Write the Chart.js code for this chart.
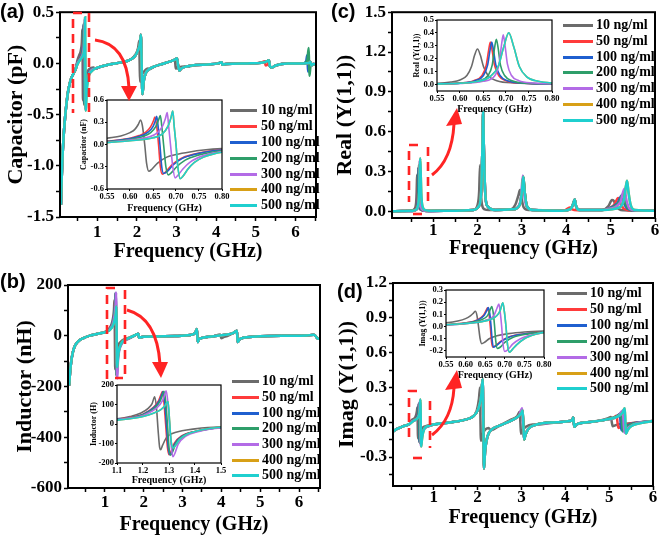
<!DOCTYPE html>
<html><head><meta charset="utf-8">
<script src="https://cdn.jsdelivr.net/npm/chart.js@4.4.1/dist/chart.umd.min.js"></script>
<style>
html,body{margin:0;padding:0;background:#fff;}
body{width:661px;height:536px;position:relative;overflow:hidden;font-family:'Liberation Serif','Times New Roman',serif;}
canvas{position:absolute;}
.plab{position:absolute;font:bold 20px 'Liberation Sans',Arial,sans-serif;line-height:20px;color:#000;z-index:5;}
.lgl{position:absolute;height:3px;z-index:5;}
.lgt{position:absolute;font:bold 14px 'Liberation Serif',serif;line-height:16px;color:#000;white-space:nowrap;z-index:5;}
svg{position:absolute;left:0;top:0;z-index:6;}
</style></head><body>
<div class="plab" style="left:0px;top:1px">(a)</div>
<div class="plab" style="left:0px;top:271px">(b)</div>
<div class="plab" style="left:331px;top:1px">(c)</div>
<div class="plab" style="left:337px;top:281px">(d)</div>
<svg width="661" height="536" viewBox="0 0 661 536">
 <g fill="none" stroke="#ff2424" stroke-width="2.6" stroke-dasharray="9,6">
  <path d="M82,13 L73,13 L73,113"/><path d="M89,13 L89,115"/>
  <path d="M115,288 L107,288 L107,380"/><path d="M125,290 L125,378 L115,378"/>
  <path d="M418,145 L409,145 L409,202"/><path d="M428,147 L428,202"/><path d="M413,214 L423,214"/>
  <path d="M417,391 L409,391 L409,440"/><path d="M430,401 L430,448"/><path d="M413,458 L424,458"/>
 </g>
 <g fill="none" stroke="#ff2424" stroke-width="3">
  <path d="M95,40 Q127,44 129,88"/>
  <path d="M127,310 Q157,318 160,364"/>
  <path d="M432,175 Q452,160 454,124"/>
  <path d="M432,435 Q452,420 454,388"/>
 </g>
 <g fill="#ff2424">
  <polygon points="121,86 137,86 129,101"/>
  <polygon points="152,362 168,362 161,378"/>
  <polygon points="446,126 462,124 457,108"/>
  <polygon points="445,390 462,388 457,370"/>
 </g>
</svg>
<script>
// ---------- legend / series info ----------
const concLabels = ['10 ng/ml','50 ng/ml','100 ng/ml','200 ng/ml','300 ng/ml','400 ng/ml','500 ng/ml'];
const seriesColors = ['#6b6b6b','#ff3b3b','#1f5fcf','#2e9e6a','#b36be6','#d8a017','#1fcfcf'];

// ---------- tick values ----------
const mainXMajor = [1,2,3,4,5,6];
const mainXMinorAB = [0.5,1.5,2.5,3.5,4.5,5.5,6.5];
const mainXMinorCD = [0.5,1.5,2.5,3.5,4.5,5.5];
const capYMajor = [-1.5,-1,-0.5,0,0.5];
const capYMinor = [-1.25,-0.75,-0.25,0.25];
const indYMajor = [-600,-400,-200,0,200];
const indYMinor = [-500,-300,-100,100];
const realYMajor = [0,0.3,0.6,0.9,1.2,1.5];
const realYMinor = [0.15,0.45,0.75,1.05,1.35];
const imagYMajor = [-0.3,0,0.3,0.6,0.9,1.2];
const imagYMinor = [-0.45,-0.15,0.15,0.45,0.75,1.05];
const insetFreqTicks = [0.55,0.60,0.65,0.70,0.75,0.80];
const insetIndFreqTicks = [1.1,1.2,1.3,1.4,1.5];
const capInsetY = [-0.6,-0.3,0,0.3,0.6];
const realInsetY = [0,0.1,0.2,0.3,0.4,0.5];
const indInsetY = [-200,-100,0,100,200];
const imagInsetY = [-0.2,-0.1,0,0.1,0.2,0.3];

// ---------- (a) Capacitor: 500 ng/ml (top curve) ----------
const cap500 = [[0.085,-1.38],[0.1,-1.15],[0.12,-0.94],[0.15,-0.72],[0.19,-0.52],[0.23,-0.37],[0.27,-0.26],[0.33,-0.16],[0.4,-0.1],[0.46,-0.05],[0.5,-0.01],
 [0.55,0.025],[0.60,0.05],[0.65,0.09],[0.67,0.14],[0.683,0.25],[0.689,0.36],[0.693,0.45],[0.696,0.25],[0.70,0.0],[0.704,-0.3],[0.709,-0.46],[0.716,-0.42],[0.726,-0.33],[0.74,-0.24],[0.76,-0.17],[0.78,-0.13],[0.80,-0.105],[0.85,-0.08],[0.95,-0.05],
 [1.1,-0.03],[1.3,-0.01],[1.6,0.01],[1.8,0.03],[1.95,0.07],[2.03,0.13],[2.08,0.2],[2.1,0.28],[2.12,0.0],[2.14,-0.3],[2.17,-0.18],[2.22,-0.1],[2.3,-0.06],[2.45,-0.03],[2.6,-0.01],[2.85,0.02],[2.97,0.04],[3.01,0.05],[3.04,-0.02],[3.07,-0.07],[3.12,-0.05],[3.25,-0.03],[3.5,-0.015],[3.8,-0.01],
 [4.05,0.0],[4.14,0.012],[4.16,-0.012],[4.25,-0.005],[4.8,0.0],[5.2,0.01],[5.3,0.025],[5.33,0.03],[5.36,-0.03],[5.4,-0.04],[5.5,-0.02],[5.8,0.0],[6.2,0.0],[6.35,0.005],[6.38,0.015],[6.4,-0.02],[6.45,-0.005],[6.52,-0.01]];
const cap10R1 = [[0.5,0.03],[0.55,0.085],[0.58,0.115],[0.60,0.16],[0.61,0.2],[0.618,0.27],[0.623,0.33],[0.627,0.25],[0.632,0.0],[0.636,-0.25],[0.641,-0.36],[0.648,-0.33],[0.66,-0.25],[0.68,-0.17],[0.70,-0.135],[0.73,-0.1],[0.76,-0.075],[0.80,-0.055],[0.9,-0.04]];
const cap10R2 = [[1.85,0.04],[1.97,0.09],[2.03,0.15],[2.06,0.22],[2.07,0.0],[2.08,-0.18],[2.11,-0.12],[2.18,-0.08],[2.28,-0.05]];
const cap10R3 = [[2.8,0.015],[2.92,0.03],[2.96,0.035],[2.98,-0.05],[3.02,-0.04],[3.1,-0.035],[3.2,-0.03]];
const cap50R1 = [[0.5,0.01],[0.55,0.045],[0.60,0.085],[0.62,0.12],[0.635,0.17],[0.645,0.24],[0.651,0.32],[0.654,0.37],[0.658,0.25],[0.662,0.0],[0.666,-0.3],[0.670,-0.40],[0.676,-0.38],[0.69,-0.28],[0.71,-0.19],[0.74,-0.13],[0.77,-0.09],[0.80,-0.07],[0.9,-0.045]];
const cap50R5 = [[5.15,0.01],[5.22,0.02],[5.25,-0.02],[5.3,-0.01]];
const cap100R1 = [[0.5,0.01],[0.55,0.04],[0.60,0.08],[0.625,0.12],[0.64,0.17],[0.65,0.24],[0.655,0.32],[0.658,0.38],[0.661,0.25],[0.665,0.0],[0.669,-0.3],[0.673,-0.39],[0.68,-0.37],[0.693,-0.28],[0.713,-0.19],[0.743,-0.13],[0.775,-0.09],[0.80,-0.075],[0.9,-0.047]];
const cap100R6 = [[6.2,0.0],[6.27,0.02],[6.3,0.08],[6.31,0.0],[6.32,-0.08],[6.35,-0.02],[6.37,-0.01]];
const cap200R1 = [[0.5,0.005],[0.55,0.035],[0.60,0.07],[0.63,0.11],[0.645,0.16],[0.656,0.24],[0.662,0.33],[0.666,0.39],[0.669,0.25],[0.673,0.0],[0.678,-0.3],[0.683,-0.41],[0.69,-0.38],[0.70,-0.31],[0.72,-0.21],[0.75,-0.14],[0.78,-0.1],[0.80,-0.085],[0.9,-0.05]];
const cap200R6 = [[6.2,0.0],[6.3,0.03],[6.335,0.15],[6.345,0.0],[6.355,-0.12],[6.38,-0.03],[6.39,-0.02]];
const cap300R1 = [[0.5,0.0],[0.55,0.03],[0.60,0.06],[0.64,0.1],[0.66,0.16],[0.671,0.25],[0.677,0.35],[0.681,0.43],[0.684,0.25],[0.688,0.0],[0.693,-0.3],[0.698,-0.45],[0.705,-0.41],[0.715,-0.33],[0.73,-0.24],[0.76,-0.15],[0.80,-0.095],[0.9,-0.055]];

// ---------- (b) Inductor ----------
const ind500 = [[0.08,-196],[0.1,-150],[0.13,-105],[0.17,-68],[0.22,-42],[0.3,-24],[0.45,-9],[0.65,2],[0.85,9],[1.0,14],
 [1.1,20],[1.15,27],[1.2,38],[1.24,55],[1.27,75],[1.285,95],[1.296,115],[1.30,60],[1.305,-40],[1.31,-105],[1.316,-123],[1.325,-110],[1.34,-80],[1.37,-52],[1.4,-38],[1.45,-24],[1.5,-17],[1.6,-10],
 [1.75,0],[1.83,6],[1.86,8],[1.88,-8],[1.92,-6],[2.0,-4],[2.3,-3],[2.8,-1],[3.2,3],[3.33,12],[3.37,27],[3.39,-25],[3.42,-15],[3.55,-7],[3.8,-2],[4.1,4],[4.3,10],[4.4,20],[4.42,-25],[4.47,-14],[4.6,-7],[5.0,-2],[5.6,0],[6.2,1],[6.38,4],[6.43,-2],[6.47,-10],[6.53,-12]];
const ind10R1 = [[1.1,26],[1.15,38],[1.19,55],[1.22,80],[1.235,105],[1.245,140],[1.252,80],[1.258,-30],[1.264,-120],[1.268,-132],[1.275,-110],[1.29,-70],[1.31,-50],[1.35,-35],[1.4,-25],[1.45,-18],[1.5,-14],[1.6,-9]];
const ind10R4 = [[3.85,1],[3.97,5],[4.0,-10],[4.05,-6],[4.15,-1]];
const ind50R1 = [[1.1,24],[1.15,33],[1.2,50],[1.24,85],[1.26,120],[1.272,160],[1.275,166],[1.28,120],[1.287,0],[1.294,-120],[1.300,-157],[1.308,-140],[1.32,-100],[1.35,-60],[1.4,-38],[1.45,-25],[1.5,-18],[1.6,-11]];
const ind100R1 = [[1.1,24],[1.15,32],[1.2,49],[1.243,85],[1.263,120],[1.275,160],[1.278,167],[1.283,120],[1.29,0],[1.297,-120],[1.303,-158],[1.311,-140],[1.323,-100],[1.353,-60],[1.403,-38],[1.453,-25],[1.5,-18],[1.6,-11]];
const ind200R1 = [[1.1,23],[1.15,31],[1.2,47],[1.247,85],[1.267,120],[1.278,160],[1.281,168],[1.287,120],[1.294,0],[1.300,-120],[1.306,-160],[1.314,-142],[1.326,-100],[1.356,-60],[1.406,-38],[1.456,-25],[1.5,-19],[1.6,-12]];
const ind300R1 = [[1.1,22],[1.15,30],[1.2,44],[1.255,85],[1.275,120],[1.286,160],[1.289,170],[1.295,120],[1.302,0],[1.309,-120],[1.315,-168],[1.323,-150],[1.335,-105],[1.365,-62],[1.415,-38],[1.46,-26],[1.5,-20],[1.6,-12]];

// ---------- (c) Real(Y(1,1)) ----------
const real500 = [[0.07,0.0],[0.3,0.002],[0.5,0.004],[0.55,0.005],[0.60,0.01],[0.64,0.025],[0.665,0.06],[0.683,0.14],[0.695,0.29],[0.706,0.40],[0.717,0.29],[0.729,0.14],[0.745,0.06],[0.77,0.025],[0.80,0.012],[0.9,0.005],
 [1.5,0.005],[1.9,0.01],[2.03,0.04],[2.08,0.15],[2.11,0.5],[2.125,0.75],[2.14,0.5],[2.17,0.15],[2.22,0.04],[2.4,0.01],[2.8,0.015],[2.95,0.05],[3.0,0.15],[3.03,0.26],[3.06,0.15],[3.11,0.04],[3.25,0.01],[3.9,0.005],
 [4.1,0.02],[4.16,0.06],[4.19,0.09],[4.22,0.04],[4.3,0.01],[4.8,0.01],[5.2,0.03],[5.3,0.09],[5.35,0.2],[5.37,0.23],[5.4,0.15],[5.45,0.05],[5.55,0.01],[6.0,0.005]];
const real10R1 = [[0.5,0.006],[0.55,0.01],[0.58,0.02],[0.60,0.035],[0.615,0.07],[0.625,0.14],[0.632,0.23],[0.638,0.275],[0.644,0.23],[0.651,0.14],[0.661,0.07],[0.68,0.03],[0.72,0.012],[0.80,0.005],[0.9,0.003]];
const real10R2 = [[1.9,0.01],[2.0,0.05],[2.035,0.15],[2.055,0.35],[2.075,0.15],[2.1,0.05],[2.16,0.015],[2.25,0.01]];
const real10R3 = [[2.75,0.015],[2.85,0.05],[2.92,0.12],[2.955,0.16],[2.99,0.1],[3.04,0.03],[3.15,0.01]];
const real10R5 = [[4.8,0.01],[4.95,0.04],[5.03,0.085],[5.07,0.08],[5.12,0.04],[5.2,0.015],[5.3,0.008],[5.5,0.005],[6.0,0.005]];
const real50R1 = [[0.5,0.003],[0.55,0.005],[0.60,0.012],[0.63,0.03],[0.648,0.07],[0.657,0.15],[0.662,0.26],[0.666,0.33],[0.670,0.26],[0.675,0.15],[0.684,0.07],[0.70,0.03],[0.74,0.01],[0.80,0.005],[0.9,0.003]];
const real50R4 = [[3.95,0.005],[4.08,0.03],[4.13,0.015],[4.25,0.008]];
const real50R5 = [[4.9,0.015],[5.08,0.05],[5.17,0.1],[5.22,0.06],[5.3,0.02],[5.5,0.006],[6.0,0.005]];
const real100R1 = [[0.5,0.003],[0.55,0.005],[0.60,0.011],[0.633,0.03],[0.651,0.07],[0.66,0.15],[0.665,0.26],[0.669,0.33],[0.673,0.26],[0.678,0.15],[0.687,0.07],[0.703,0.03],[0.74,0.011],[0.80,0.005],[0.9,0.003]];
const real100R5 = [[4.9,0.015],[5.15,0.06],[5.25,0.12],[5.3,0.06],[5.38,0.02],[5.55,0.006],[6.0,0.005]];
const real200R1 = [[0.5,0.003],[0.55,0.005],[0.60,0.01],[0.64,0.028],[0.661,0.07],[0.67,0.15],[0.675,0.28],[0.679,0.35],[0.683,0.28],[0.688,0.15],[0.697,0.07],[0.713,0.03],[0.75,0.01],[0.80,0.006],[0.9,0.003]];
const real200R5 = [[4.9,0.015],[5.18,0.065],[5.28,0.13],[5.33,0.06],[5.4,0.02],[5.55,0.006],[6.0,0.005]];
const real300R1 = [[0.5,0.003],[0.55,0.004],[0.60,0.008],[0.65,0.025],[0.676,0.07],[0.685,0.16],[0.69,0.3],[0.694,0.385],[0.698,0.3],[0.703,0.16],[0.712,0.07],[0.728,0.03],[0.76,0.012],[0.80,0.006],[0.9,0.003]];
const real300R3 = [[2.8,0.015],[2.97,0.08],[3.02,0.27],[3.06,0.1],[3.12,0.03],[3.25,0.01]];
const real300R5 = [[4.9,0.015],[5.22,0.07],[5.31,0.17],[5.36,0.08],[5.43,0.02],[5.6,0.006],[6.0,0.005]];

// ---------- (d) Imag(Y(1,1)) ----------
const imag500 = [[0.07,-0.08],[0.15,-0.06],[0.3,-0.035],[0.45,-0.015],[0.5,0.0],[0.55,0.015],[0.60,0.025],[0.64,0.04],[0.665,0.06],[0.68,0.09],[0.688,0.13],[0.695,0.195],[0.699,0.12],[0.703,0.0],[0.707,-0.15],[0.712,-0.21],[0.72,-0.185],[0.73,-0.15],[0.75,-0.1],[0.78,-0.062],[0.80,-0.048],[0.9,-0.03],
 [1.0,-0.02],[1.4,0.0],[1.7,0.02],[1.9,0.05],[2.02,0.12],[2.08,0.22],[2.115,0.37],[2.13,0.0],[2.145,-0.4],[2.17,-0.25],[2.22,-0.13],[2.3,-0.07],[2.5,-0.03],[2.8,0.02],[2.93,0.05],[3.0,0.08],[3.025,0.1],[3.04,0.0],[3.06,-0.15],[3.09,-0.11],[3.15,-0.06],[3.35,-0.02],
 [3.8,0.0],[4.1,0.01],[4.16,0.02],[4.18,0.04],[4.195,-0.01],[4.21,-0.04],[4.25,-0.02],[4.5,0.0],[4.9,0.02],[5.2,0.05],[5.3,0.08],[5.355,0.12],[5.37,0.0],[5.385,-0.1],[5.42,-0.07],[5.5,-0.035],[5.7,-0.01],[6.0,0.01]];
const imag10R1 = [[0.5,0.02],[0.55,0.03],[0.58,0.045],[0.60,0.065],[0.613,0.09],[0.62,0.11],[0.625,0.126],[0.629,0.09],[0.633,0.0],[0.637,-0.1],[0.641,-0.14],[0.648,-0.13],[0.66,-0.1],[0.68,-0.075],[0.71,-0.058],[0.75,-0.045],[0.80,-0.036],[0.9,-0.025]];
const imag10R2 = [[1.85,0.04],[1.98,0.1],[2.03,0.2],[2.055,0.3],[2.065,0.0],[2.075,-0.16],[2.1,-0.12],[2.16,-0.07],[2.25,-0.05]];
const imag10R3 = [[2.75,0.02],[2.9,0.05],[2.96,0.09],[2.975,0.0],[2.99,-0.1],[3.03,-0.07],[3.1,-0.04],[3.25,-0.02]];
const imag10R5 = [[4.8,0.015],[4.98,0.035],[5.04,0.045],[5.06,0.0],[5.08,-0.035],[5.15,-0.025],[5.3,-0.015],[5.6,-0.005],[6.0,0.01]];
const imag50R1 = [[0.5,0.008],[0.55,0.015],[0.60,0.03],[0.63,0.055],[0.645,0.09],[0.652,0.13],[0.656,0.154],[0.66,0.1],[0.663,0.0],[0.666,-0.12],[0.669,-0.168],[0.675,-0.16],[0.69,-0.12],[0.71,-0.085],[0.75,-0.06],[0.80,-0.044],[0.9,-0.03]];
const imag50R5 = [[4.9,0.02],[5.1,0.04],[5.17,0.055],[5.19,0.0],[5.21,-0.05],[5.27,-0.035],[5.45,-0.015],[6.0,0.01]];
const imag100R1 = [[0.5,0.008],[0.55,0.015],[0.60,0.028],[0.632,0.055],[0.647,0.09],[0.654,0.13],[0.658,0.156],[0.662,0.1],[0.665,0.0],[0.668,-0.12],[0.671,-0.17],[0.677,-0.16],[0.692,-0.12],[0.712,-0.085],[0.752,-0.06],[0.80,-0.045],[0.9,-0.03]];
const imag100R5 = [[4.9,0.02],[5.15,0.045],[5.245,0.07],[5.26,0.0],[5.28,-0.07],[5.33,-0.045],[5.5,-0.015],[6.0,0.01]];
const imag200R1 = [[0.5,0.006],[0.55,0.014],[0.60,0.026],[0.64,0.055],[0.656,0.09],[0.663,0.14],[0.667,0.165],[0.671,0.1],[0.674,0.0],[0.677,-0.12],[0.681,-0.18],[0.688,-0.17],[0.70,-0.13],[0.72,-0.09],[0.76,-0.06],[0.80,-0.047],[0.9,-0.032]];
const imag200R5 = [[4.9,0.02],[5.18,0.05],[5.275,0.08],[5.29,0.0],[5.31,-0.08],[5.36,-0.05],[5.5,-0.02],[6.0,0.01]];
const imag300R1 = [[0.5,0.005],[0.55,0.013],[0.60,0.024],[0.65,0.05],[0.672,0.09],[0.68,0.15],[0.685,0.185],[0.689,0.1],[0.692,0.0],[0.695,-0.13],[0.70,-0.205],[0.708,-0.19],[0.72,-0.145],[0.74,-0.1],[0.77,-0.067],[0.80,-0.05],[0.9,-0.033]];
const imag300R3 = [[2.8,0.02],[2.95,0.06],[3.015,0.12],[3.035,0.0],[3.055,-0.14],[3.09,-0.1],[3.15,-0.06],[3.3,-0.025]];
const imag300R5 = [[4.9,0.02],[5.2,0.05],[5.315,0.1],[5.33,0.0],[5.35,-0.09],[5.4,-0.06],[5.55,-0.02],[6.0,0.01]];

// A series = the shared (500 ng/ml) trace where the curves coincide, with its own resonance segments
function combine(base, ...segs){
  const out = base.filter(p => !segs.some(s => p[0] >= s[0][0] && p[0] <= s[s.length-1][0]));
  segs.forEach(s => out.push(...s));
  return out.sort((a,b)=>a[0]-b[0]);
}
// 400 ng/ml coincides with 500 ng/ml in every panel
const capSeries = [combine(cap500,cap10R1,cap10R2,cap10R3), combine(cap500,cap50R1,cap50R5), combine(cap500,cap100R1,cap100R6), combine(cap500,cap200R1,cap200R6), combine(cap500,cap300R1), cap500, cap500];
const indSeries = [combine(ind500,ind10R1,ind10R4), combine(ind500,ind50R1), combine(ind500,ind100R1), combine(ind500,ind200R1), combine(ind500,ind300R1), ind500, ind500];
const realSeries = [combine(real500,real10R1,real10R2,real10R3,real10R5), combine(real500,real50R1,real50R4,real50R5), combine(real500,real100R1,real100R5), combine(real500,real200R1,real200R5), combine(real500,real300R1,real300R3,real300R5), real500, real500];
const imagSeries = [combine(imag500,imag10R1,imag10R2,imag10R3,imag10R5), combine(imag500,imag50R1,imag50R5), combine(imag500,imag100R1,imag100R5), combine(imag500,imag200R1,imag200R5), combine(imag500,imag300R1,imag300R3,imag300R5), imag500, imag500];

// ---------- drawing helpers ----------
const framePlugin = {
  id:'frame',
  beforeDatasetsDraw(c, a, o){ if(o.bg){ const ca=c.chartArea; c.ctx.save(); c.ctx.fillStyle='#fff'; c.ctx.fillRect(ca.left,ca.top,ca.right-ca.left,ca.bottom-ca.top); c.ctx.restore(); } },
  afterDatasetsDraw(c, a, o){ const ca=c.chartArea, ctx=c.ctx; ctx.save(); ctx.lineWidth=o.w; ctx.strokeStyle='#000'; ctx.strokeRect(ca.left,ca.top,ca.right-ca.left,ca.bottom-ca.top); ctx.restore(); }
};

function makeChart(g){
  const cv = document.createElement('canvas');
  cv.width = g.cw; cv.height = g.ch;
  cv.style.left = g.cx+'px'; cv.style.top = g.cy+'px';
  cv.style.width = g.cw+'px'; cv.style.height = g.ch+'px';
  document.body.appendChild(cv);
  const padL = g.ytx - g.cx - g.yTF/2;
  const yW = g.L - g.cx - padL;
  const xH = g.xty - g.B + g.xTF/2;
  const padB = g.cy + g.ch - g.B - xH;
  const fam = "'Liberation Serif','Times New Roman',serif";
  const xAll = g.xMajor.concat(g.xMinor||[]).sort((a,b)=>a-b);
  const yAll = g.yMajor.concat(g.yMinor||[]).sort((a,b)=>a-b);
  const gridOpt = {drawOnChartArea:false, drawTicks:true, tickLength:g.tickLen, tickColor:'#000', tickWidth:g.tickW};
  new Chart(cv, {
    type:'line',
    data:{datasets: g.series.map((d,i)=>({data:d, borderColor:seriesColors[i], borderWidth:g.lw, pointRadius:0, fill:false, cubicInterpolationMode:'monotone', order:6-i}))},
    options:{
      responsive:false, animation:false, devicePixelRatio:1, events:[],
      layout:{padding:{left:padL, top:g.T-g.cy, right:g.cx+g.cw-g.R, bottom:padB}},
      plugins:{legend:{display:false}, tooltip:{enabled:false}, frame:{w:g.frameW, bg:g.bg}},
      scales:{
        x:{type:'linear', min:g.xMin, max:g.xMax,
           afterBuildTicks:s=>{ s.ticks = xAll.map(v=>({value:v})); },
           afterFit:s=>{ s.height = xH; },
           ticks:{autoSkip:false, maxRotation:0, padding:(g.xPad!==undefined?g.xPad:g.tickPad), color:'#000', font:{family:fam, size:g.tickF, weight:'bold'},
                  callback:v=> g.xMajor.includes(v) ? v.toFixed(g.xDec) : ''},
           grid:gridOpt, border:{display:false},
           title:{display:true, text:'Frequency (GHz)', color:'#000', padding:0, font:{family:fam, size:g.xTF, weight:'bold', lineHeight:1}}},
        y:{type:'linear', min:g.yMin, max:g.yMax,
           afterBuildTicks:s=>{ s.ticks = yAll.map(v=>({value:v})); },
           afterFit:s=>{ s.width = yW; },
           ticks:{autoSkip:false, padding:g.tickPad, color:'#000', font:{family:fam, size:g.tickF, weight:'bold'},
                  callback:v=> g.yMajor.includes(v) ? v.toFixed(g.yDec) : ''},
           grid:gridOpt, border:{display:false},
           title:{display:true, text:g.yTitle, color:'#000', padding:0, font:{family:fam, size:g.yTF, weight:'bold', lineHeight:1}}}
      }
    },
    plugins:[framePlugin]
  });
}
const mainStyle = {tickF:17, yTF:22, xTF:20, lw:2.5, frameW:2, tickLen:4, tickW:1.5, tickPad:2, bg:false};
const insetStyle = {tickF:8.5, yTF:8, xTF:10, lw:1.6, frameW:1.2, tickLen:2, tickW:1, tickPad:1, bg:true, xDec:2};

// main panels
makeChart(Object.assign({}, mainStyle, {cx:0,cy:0,cw:330,ch:268, L:60,T:12,R:316,B:217, ytx:16, xty:252, xPad:1,
  xMin:0.06, xMax:6.52, yMin:-1.5, yMax:0.5, xMajor:mainXMajor, xMinor:mainXMinorAB, yMajor:capYMajor, yMinor:capYMinor, xDec:0, yDec:1,
  yTitle:'Capacitor (pF)', series:capSeries}));
makeChart(Object.assign({}, mainStyle, {cx:0,cy:268,cw:330,ch:268, L:68,T:285,R:320,B:488, ytx:25, xty:525, xPad:0,
  xMin:0.05, xMax:6.54, yMin:-600, yMax:200, xMajor:mainXMajor, xMinor:mainXMinorAB, yMajor:indYMajor, yMinor:indYMinor, xDec:0, yDec:0,
  yTitle:'Inductor (nH)', series:indSeries}));
makeChart(Object.assign({}, mainStyle, {cx:330,cy:0,cw:331,ch:268, L:392,T:12,R:655,B:218, ytx:345, xty:249, xPad:-2,
  xMin:0.07, xMax:6.0, yMin:-0.05, yMax:1.5, xMajor:mainXMajor, xMinor:mainXMinorCD, yMajor:realYMajor, yMinor:realYMinor, xDec:0, yDec:1,
  yTitle:'Real (Y(1,1))', series:realSeries}));
makeChart(Object.assign({}, mainStyle, {cx:330,cy:268,cw:331,ch:268, L:393,T:283,R:653,B:486, ytx:347, xty:518, xPad:-3,
  xMin:0.07, xMax:6.0, yMin:-0.55, yMax:1.2, xMajor:mainXMajor, xMinor:mainXMinorCD, yMajor:imagYMajor, yMinor:imagYMinor, xDec:0, yDec:1,
  yTitle:'Imag (Y(1,1))', series:imagSeries}));

// insets
makeChart(Object.assign({}, insetStyle, {cx:72,cy:90,cw:160,ch:126, L:107,T:100,R:222,B:189, ytx:84, xty:208,
  xMin:0.55, xMax:0.80, yMin:-0.6, yMax:0.6, xMajor:insetFreqTicks, yMajor:capInsetY, yDec:1,
  yTitle:'Capacitor (nF)', series:capSeries}));
makeChart(Object.assign({}, insetStyle, {cx:82,cy:375,cw:148,ch:112, L:117,T:385,R:221,B:463, ytx:94, xty:480,
  xMin:1.1, xMax:1.5, yMin:-200, yMax:200, xMajor:insetIndFreqTicks, yMajor:indInsetY, xDec:1, yDec:0,
  yTitle:'Inductor (H)', series:indSeries}));
makeChart(Object.assign({}, insetStyle, {cx:405,cy:8,cw:158,ch:110, L:437,T:20,R:552,B:91, ytx:417, xty:109,
  xMin:0.55, xMax:0.80, yMin:-0.05, yMax:0.5, xMajor:insetFreqTicks, yMajor:realInsetY, yDec:1,
  yTitle:'Real (Y(1,1))', series:realSeries}));
makeChart(Object.assign({}, insetStyle, {cx:410,cy:280,cw:145,ch:105, L:446,T:290,R:544,B:357, ytx:423, xty:375,
  xMin:0.55, xMax:0.80, yMin:-0.25, yMax:0.3, xMajor:insetFreqTicks, yMajor:imagInsetY, yDec:1,
  yTitle:'Imag (Y(1,1))', series:imagSeries}));

// legends
const legendPos = [
  {lx:230, lw:27, tx:261, rows:[110,126,142,158,174,189,205]},
  {lx:232, lw:27, tx:262, rows:[381,397,413,428,444,460,475]},
  {lx:563, lw:30, tx:596, rows:[25,41,57,72,88,104,120]},
  {lx:557, lw:30, tx:590, rows:[293,309,325,341,357,373,388]}
];
legendPos.forEach(p=>{
  concLabels.forEach((lab,i)=>{
    const l = document.createElement('div'); l.className='lgl';
    l.style.left=p.lx+'px'; l.style.top=(p.rows[i]-1.5)+'px'; l.style.width=p.lw+'px'; l.style.background=seriesColors[i];
    document.body.appendChild(l);
    const t = document.createElement('div'); t.className='lgt';
    t.style.left=p.tx+'px'; t.style.top=(p.rows[i]-8)+'px'; t.textContent=lab;
    document.body.appendChild(t);
  });
});
</script>
</body></html>
